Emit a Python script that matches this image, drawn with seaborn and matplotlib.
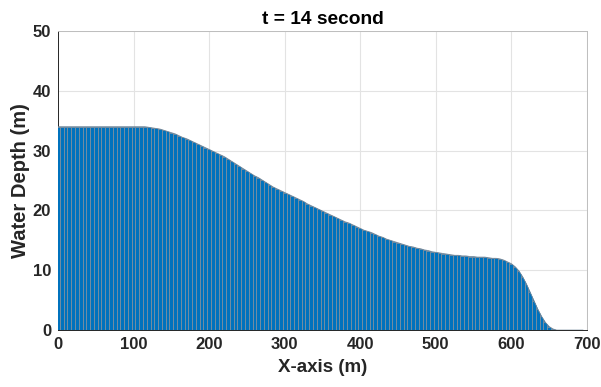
import numpy as np
import pandas as pd
import matplotlib
matplotlib.use("Agg")
import matplotlib.pyplot as plt
import seaborn as sns

# Water depth profile along the channel at t = 14 s (cell width 5 m)
cell_width = 5
x_centers = np.arange(0, 700, cell_width)
depth = [
    # 0 - 115 m
    34.0, 34.0, 34.0, 34.0, 34.0, 34.0, 34.0, 34.0, 34.0, 34.0, 34.0, 34.0,
    34.0, 34.0, 34.0, 34.0, 34.0, 34.0, 34.0, 34.0, 34.0, 34.0, 34.0, 34.0,
    # 120 - 235 m
    33.9, 33.8, 33.7, 33.6, 33.4, 33.2, 33.0, 32.8, 32.5, 32.2, 32.0, 31.7,
    31.4, 31.1, 30.8, 30.5, 30.2, 29.9, 29.6, 29.3, 29.0, 28.6, 28.2, 27.8,
    # 240 - 355 m
    27.4, 27.0, 26.6, 26.2, 25.8, 25.5, 25.1, 24.7, 24.3, 23.9, 23.6, 23.3,
    23.0, 22.7, 22.4, 22.1, 21.8, 21.5, 21.1, 20.8, 20.5, 20.2, 19.9, 19.6,
    # 360 - 475 m
    19.3, 19.0, 18.7, 18.4, 18.1, 17.9, 17.6, 17.3, 17.0, 16.7, 16.5, 16.3,
    16.0, 15.7, 15.5, 15.2, 15.0, 14.8, 14.6, 14.4, 14.2, 14.0, 13.9, 13.7,
    # 480 - 595 m
    13.6, 13.4, 13.3, 13.1, 13.0, 12.9, 12.8, 12.7, 12.6, 12.5, 12.5, 12.4,
    12.4, 12.3, 12.3, 12.2, 12.2, 12.2, 12.1, 12.0, 12.0, 11.9, 11.7, 11.4,
    # 600 - 695 m
    11.1, 10.6, 9.9, 8.9, 7.7, 6.3, 4.9, 3.5, 2.3, 1.3, 0.6, 0.2,
    0.0, 0.0, 0.0, 0.0, 0.0, 0.0, 0.0, 0.0,
]

x_ticks = [0, 100, 200, 300, 400, 500, 600, 700]
y_ticks = [0, 10, 20, 30, 40, 50]

profile = pd.DataFrame({"x": x_centers, "depth": depth})
bar_blue = "#0072BD"

sns.set_style("white")
plt.rcParams["font.family"] = ["Liberation Sans", "DejaVu Sans"]

fig = plt.figure(figsize=(6.01, 3.87), dpi=100)
ax = fig.add_axes([0.0965, 0.147, 0.880, 0.773])

# smooth water surface through the cell centres
surface = ax.fill_between(profile["x"], profile["depth"], 0,
                          color=bar_blue, linewidth=0, zorder=2)
surface_path = surface.get_paths()[0]

sns.histplot(data=profile, x="x", weights="depth", binwidth=cell_width,
             binrange=(-cell_width / 2, 700 - cell_width / 2), ax=ax,
             color=bar_blue, alpha=1.0, edgecolor="#7d8fa0", linewidth=0.6,
             zorder=3)
for bar in ax.patches:
    bar.set_clip_path(surface_path, ax.transData)

sns.lineplot(data=profile, x="x", y="depth", ax=ax, color="#6f8598",
             linewidth=0.6, zorder=4)

ax.set_xlim(0, 700)
ax.set_ylim(0, 50)
ax.set_xticks(x_ticks)
ax.set_yticks(y_ticks)
ax.grid(True, color="#e3e3e3", linewidth=0.8)
ax.set_axisbelow(True)

ax.tick_params(axis="both", direction="in", length=3, width=0.6,
               colors="#262626", labelsize=12, pad=5)
for lbl in ax.get_xticklabels() + ax.get_yticklabels():
    lbl.set_fontweight("bold")

for side in ("left", "bottom"):
    ax.spines[side].set_color("#262626")
    ax.spines[side].set_linewidth(0.7)
for side in ("top", "right"):
    ax.spines[side].set_color("#bdbdbd")
    ax.spines[side].set_linewidth(0.7)

ax.set_title("t = 14 second", fontsize=13.8, fontweight="bold", color="black", pad=5)
ax.set_xlabel("X-axis (m)", fontsize=13.5, fontweight="bold", color="#262626", labelpad=5)
ax.set_ylabel("Water Depth (m)", fontsize=14.5, fontweight="bold", color="#262626", labelpad=2)

fig.savefig("out.png", dpi=100)
